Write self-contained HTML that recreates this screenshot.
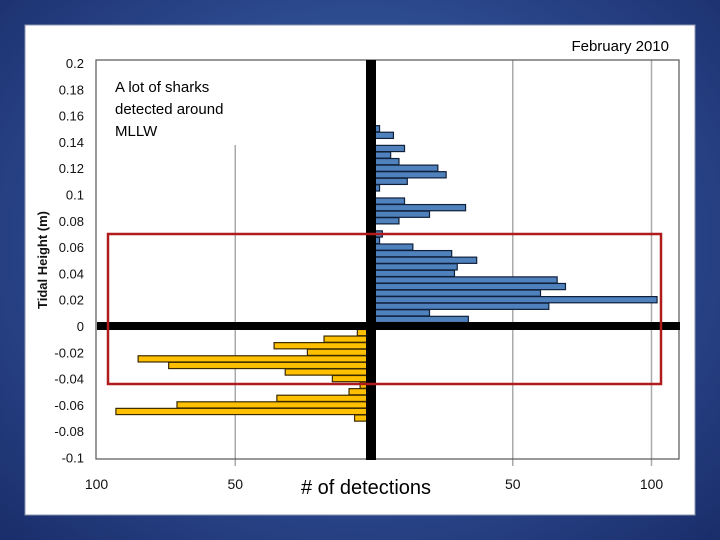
<!DOCTYPE html>
<html><head><meta charset="utf-8"><style>
html,body{margin:0;padding:0;width:720px;height:540px;overflow:hidden;}
body{background:radial-gradient(ellipse at 50% 45%,#4465a8 0%,#2c4a8e 55%,#1a2d6a 100%);}
</style></head><body>
<svg width="720" height="540" xmlns="http://www.w3.org/2000/svg" font-family="Liberation Sans, sans-serif">
<rect x="25" y="25" width="670" height="490" fill="#fff" stroke="#8a93b0" stroke-width="1"/>
<g id="grid"></g>
<rect x="96" y="60" width="583" height="399" fill="none" stroke="#555" stroke-width="1.2"/>
<g id="bars"></g>
<rect x="366" y="60" width="10" height="400" fill="#000"/>
<rect x="97" y="322" width="583" height="8" fill="#000"/>
<rect x="108" y="234" width="553" height="150" fill="none" stroke="#b01c1c" stroke-width="2.5"/>
<g id="yt" font-size="13" text-anchor="end" fill="#111"></g>
<g id="xt" font-size="14" text-anchor="middle" fill="#111"></g>
<text transform="translate(47,260) rotate(-90)" text-anchor="middle" font-size="13" font-weight="bold" fill="#111">Tidal Height (m)</text>
<text x="366" y="494" text-anchor="middle" font-size="20" fill="#000"># of detections</text>
<text x="669" y="51" text-anchor="end" font-size="15" fill="#000">February 2010</text>
<text font-size="15" fill="#000"><tspan x="115" y="92">A lot of sharks</tspan><tspan x="115" y="114">detected around</tspan><tspan x="115" y="136">MLLW</tspan></text>
</svg>
<script>
const rightHeights=[0.15,0.145,0.135,0.13,0.125,0.12,0.115,0.11,0.105,0.095,0.09,0.085,0.08,0.07,0.065,0.06,0.055,0.05,0.045,0.04,0.035,0.03,0.025,0.02,0.015,0.01,0.005];
const rightCounts=[2,7,11,6,9,23,26,12,2,11,33,20,9,3,2,14,28,37,30,29,66,69,60,102,63,20,34];
const leftHeights=[-0.005,-0.01,-0.015,-0.02,-0.025,-0.03,-0.035,-0.04,-0.045,-0.05,-0.055,-0.06,-0.065,-0.07];
const leftCounts=[6,18,36,24,85,74,32,15,5,9,35,71,93,7];
const yTicks=[0.2,0.18,0.16,0.14,0.12,0.1,0.08,0.06,0.04,0.02,0,-0.02,-0.04,-0.06,-0.08,-0.1];
const xTicks=[100,50,50,100];
const xSides=[-1,-1,1,1];
const NS='http://www.w3.org/2000/svg';
function y(v){return 326-v*1315;}
function x(c,side){return 374+side*c*2.775;}
function mk(t,a,p){const e=document.createElementNS(NS,t);for(const k in a)e.setAttribute(k,a[k]);p.appendChild(e);return e;}
const g=document.getElementById('grid'),b=document.getElementById('bars'),yt=document.getElementById('yt'),xt=document.getElementById('xt');
[50,100].forEach(v=>{[-1,1].forEach(s=>{const xx=x(v,s);if(xx<100)return;
const l=mk('line',{x1:xx,x2:xx,y1:s<0?145:60,y2:466,stroke:'#aaa','stroke-width':1.5},g);

});});
const bh=6.2;
rightHeights.forEach((h,i)=>{const r=mk('rect',{x:374,y:y(h)-bh/2,width:x(rightCounts[i],1)-374,height:bh,fill:'#4f81bd',stroke:'#10203a','stroke-width':1.2},b);

});
leftHeights.forEach((h,i)=>{const xx=x(leftCounts[i],-1);const r=mk('rect',{x:xx,y:y(h)-bh/2,width:374-xx,height:bh,fill:'#ffc000',stroke:'#3a2a00','stroke-width':1.2},b);

});
yTicks.forEach(v=>{const t=mk('text',{x:84,y:y(v)+5},yt);t.textContent=String(v);

});
xTicks.forEach((v,i)=>{const t=mk('text',{x:x(v,xSides[i]),y:489},xt);t.textContent=String(v);

});
</script>
</body></html>
